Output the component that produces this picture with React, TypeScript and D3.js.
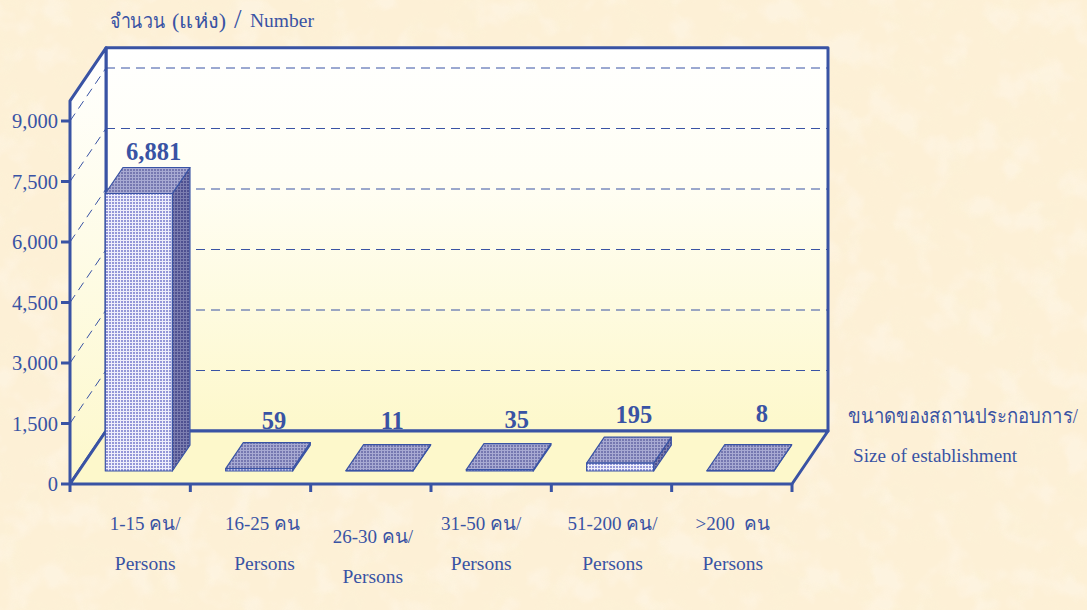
import React from "react";
import * as d3 from "d3";

const categoriesThai = ["1-15 คน/", "16-25 คน", "26-30 คน/", "31-50 คน/", "51-200 คน/", ">200  คน"];
const categoriesEng = ["Persons", "Persons", "Persons", "Persons", "Persons", "Persons"];
const values = [6881, 59, 11, 35, 195, 8];
const valueLabels = ["6,881", "59", "11", "35", "195", "8"];
const yTicks = [0, 1500, 3000, 4500, 6000, 7500, 9000];
const gridValues = [1500, 3000, 4500, 6000, 7500, 9000];

const INK = "#3953a4";
const SERIF = "'Liberation Serif','Noto Sans','DejaVu Sans',serif";

const x0 = 70, y0 = 484, plotRight = 792, depthX = 36, depthY = 53;
const y = d3.scaleLinear().domain([0, 9000]).range([y0, 121]);
const x = d3.scaleBand<number>().domain(d3.range(6)).range([x0, plotRight]).paddingInner(0).paddingOuter(0);
const yTop = y(9500);
const barInset = 26.5, barW = 67, floorT = 0.245, barT = 0.49;
const labelDx = [6, 6, 4, 8, 5, 12.5];
const labelDy = [-8, -14, -16, -16, -14, -23];
const catDx = [15, 12, 2, -10, 1, 1];
const catDy = [0, 0, 13, 0, 0, 0];
const engDx = [0, 2, 0, 0, 0, 0];

const pts = (a: number[][]) => a.map((p) => p.join(",")).join(" ");

export default function App() {
  return (
    <svg width={1087} height={610} viewBox="0 0 1087 610" style={{ position: "absolute", left: 0, top: 0, display: "block" }} fontFamily={SERIF}>
      <defs>
        <linearGradient id="wall" x1="0" y1="0" x2="0" y2="1">
          <stop offset="0" stopColor="#ffffff" />
          <stop offset="0.35" stopColor="#fffef4" />
          <stop offset="1" stopColor="#fdf8cb" />
        </linearGradient>
        <linearGradient id="side" x1="0" y1="0" x2="0" y2="1">
          <stop offset="0" stopColor="#ffffff" />
          <stop offset="1" stopColor="#fdf8cb" />
        </linearGradient>
        <pattern id="pFront" width="3" height="3" patternUnits="userSpaceOnUse">
          <rect width="3" height="3" fill="#9497d8" />
          <path d="M0 .5H3M.5 0V3" stroke="#eeeefb" strokeWidth="1" />
        </pattern>
        <pattern id="pTop" width="3" height="3" patternUnits="userSpaceOnUse">
          <rect width="3" height="3" fill="#7678b0" />
          <path d="M0 .5H3M.5 0V3" stroke="#a8aad2" strokeWidth="1" />
        </pattern>
        <pattern id="pSide" width="3" height="3" patternUnits="userSpaceOnUse">
          <rect width="3" height="3" fill="#4e5090" />
          <path d="M0 .5H3M.5 0V3" stroke="#7c7eb0" strokeWidth="1" />
        </pattern>
        <filter id="paperDark" x="0" y="0" width="100%" height="100%">
          <feTurbulence type="fractalNoise" baseFrequency="0.035" numOctaves="3" seed="7" />
          <feColorMatrix type="matrix" values="0 0 0 0 0.97  0 0 0 0 0.89  0 0 0 0 0.68  4 0 0 0 -1.9" />
        </filter>
        <filter id="paperLight" x="0" y="0" width="100%" height="100%">
          <feTurbulence type="fractalNoise" baseFrequency="0.03" numOctaves="3" seed="23" />
          <feColorMatrix type="matrix" values="0 0 0 0 1  0 0 0 0 0.95  0 0 0 0 0.88  0 4 0 0 -2" />
        </filter>
      </defs>

      <rect width={1087} height={610} fill="#fdf0d6" />
      <rect width={1087} height={610} filter="url(#paperDark)" opacity={0.4} />
      <rect width={1087} height={610} filter="url(#paperLight)" opacity={0.35} />

      {/* walls and floor */}
      <polygon points={pts([[x0 + depthX, yTop - depthY], [828, yTop - depthY], [828, y0 - depthY], [x0 + depthX, y0 - depthY]])} fill="url(#wall)" stroke={INK} strokeWidth={3} strokeLinejoin="round" />
      <polygon points={pts([[x0, yTop], [x0 + depthX, yTop - depthY], [x0 + depthX, y0 - depthY], [x0, y0]])} fill="url(#side)" stroke={INK} strokeWidth={3} strokeLinejoin="round" />
      <polygon points={pts([[x0, y0], [x0 + depthX, y0 - depthY], [828, y0 - depthY], [plotRight, y0]])} fill="#fdf8cb" stroke={INK} strokeWidth={3} strokeLinejoin="round" />

      {/* gridlines */}
      {gridValues.map((v) => (
        <g key={v} stroke={INK} strokeWidth={1} strokeDasharray="9 6" fill="none">
          <line x1={x0 + depthX} x2={828} y1={y(v) - depthY} y2={y(v) - depthY} />
          <line x1={x0} x2={x0 + depthX} y1={y(v)} y2={y(v) - depthY} />
        </g>
      ))}

      {/* axes */}
      {yTicks.map((v) => (
        <g key={v}>
          <line x1={x0 - 9} x2={x0} y1={y(v)} y2={y(v)} stroke={INK} strokeWidth={3} />
          <text x={x0 - 12} y={y(v) + 7} textAnchor="end" fontSize={20.5} fill={INK}>{d3.format(",")(v)}</text>
        </g>
      ))}
      {d3.range(7).map((i) => {
        const px = x0 + i * x.bandwidth();
        return <line key={i} x1={px} x2={px} y1={y0} y2={y0 + 8} stroke={INK} strokeWidth={3} />;
      })}

      {/* bars */}
      {values.map((v, i) => {
        const left = x(i)! + barInset + depthX * floorT;
        const right = left + barW;
        const bottom = y0 - depthY * floorT;
        const h = y0 - y(v);
        const top = bottom - h;
        const dx = depthX * barT, dy = depthY * barT;
        const s = { stroke: INK, strokeWidth: 1.2, strokeLinejoin: "round" as const };
        return (
          <g key={i}>
            <polygon points={pts([[right, bottom], [right + dx, bottom - dy], [right + dx, top - dy], [right, top]])} fill="url(#pSide)" {...s} />
            <polygon points={pts([[left, top], [right, top], [right + dx, top - dy], [left + dx, top - dy]])} fill="url(#pTop)" {...s} />
            <rect x={left} y={top} width={barW} height={h} fill="url(#pFront)" {...s} />
            <text x={left + barW / 2 + dx / 2 + labelDx[i]} y={top - dy + labelDy[i]} textAnchor="middle" fontSize={24.5} fontWeight="bold" fill={INK}>{valueLabels[i]}</text>
          </g>
        );
      })}

      {/* category labels */}
      {categoriesThai.map((c, i) => {
        const cx = x(i)! + x.bandwidth() / 2 + catDx[i];
        return (
          <g key={i} textAnchor="middle" fill={INK}>
            <text x={cx} y={530 + catDy[i]} fontSize={19} style={{ whiteSpace: "pre" }}>{c}</text>
            <text x={cx + engDx[i]} y={570 + catDy[i]} fontSize={19.5}>{categoriesEng[i]}</text>
          </g>
        );
      })}

      {/* axis titles */}
      <g fill={INK}>
        <text x={110} y={28} fontSize={20} textLength={55} lengthAdjust="spacingAndGlyphs">จำนวน</text>
        <text x={172} y={28} fontSize={20} textLength={54} lengthAdjust="spacingAndGlyphs">(แห่ง)</text>
        <text x={234} y={28} fontSize={27}>/</text>
        <text x={250} y={27} fontSize={19.5}>Number</text>
      </g>
      <text x={848} y={423} fontSize={20} fill={INK} textLength={230} lengthAdjust="spacingAndGlyphs">ขนาดของสถานประกอบการ/</text>
      <text x={853} y={462} fontSize={19.2} fill={INK}>Size of establishment</text>
    </svg>
  );
}
